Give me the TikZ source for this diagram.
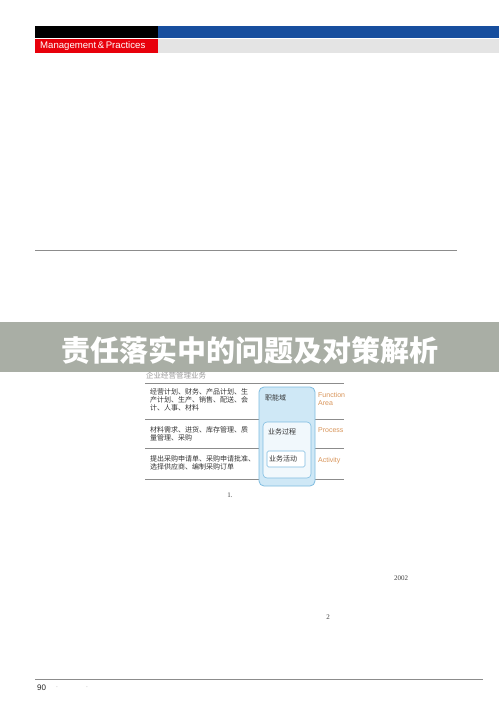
\documentclass[tikz,border=0pt]{standalone}
\usepackage{fontspec}
\setmainfont{Liberation Serif}
\setsansfont{Liberation Sans}
\newfontfamily\cjk{Noto Sans CJK SC}
\usetikzlibrary{positioning}
\definecolor{barblue}{HTML}{174E9E}
\definecolor{barred}{HTML}{E8000B}
\definecolor{bargray}{HTML}{E4E4E4}
\definecolor{bandgray}{HTML}{A9AEA5}
\definecolor{boxblue}{HTML}{CFE8F6}
\definecolor{boxline}{HTML}{7FBCE0}
\definecolor{labelorange}{HTML}{D9955A}
\definecolor{rulegray}{HTML}{8C8C8C}

\begin{document}
\begin{tikzpicture}[x=1pt,y=-1pt]
% Define styles
\tikzstyle{rowtext} = [anchor=north west, inner sep=0pt, align=left, font=\cjk\fontsize{7}{8.3}\selectfont, text=black!80]
\tikzstyle{areabox} = [draw=boxline, fill=boxblue, rounded corners=5pt, line width=0.8pt]
\tikzstyle{procbox} = [draw=boxline, fill=white!70!boxblue, rounded corners=4pt, line width=0.6pt]
\tikzstyle{actbox} = [draw=boxline, fill=white, rounded corners=1.5pt, line width=0.6pt]
\tikzstyle{tagtext} = [anchor=north west, inner sep=0pt, align=left, font=\sffamily\fontsize{7}{8.3}\selectfont, text=labelorange]
\tikzstyle{pagetext} = [inner sep=0pt, font=\fontsize{7}{8}\selectfont, text=black!75]
\tikzstyle{ruleline} = [draw=rulegray, line width=0.8pt]

% Page
\fill[white] (0,0) rectangle (499,706);
\useasboundingbox (0,0) rectangle (499,706);

% Header bars
\fill[black] (35,26) rectangle (158,38);
\fill[barblue] (158,26) rectangle (499,38);
\fill[bargray] (158,39) rectangle (499,53);
\fill[barred] (35,39) rectangle (158,53);
\node (brand) [text=white, anchor=west, inner sep=0pt, font=\sffamily\fontsize{9.6}{10}\selectfont] at (40,46) {Management\,\&\,Practices};

% Rules
\coordinate (rulea) at (35,250);
\coordinate (ruleb) at (457,250);
\draw [ruleline] (rulea) -- (ruleb);

% Table
\node (head) [anchor=west, inner sep=0pt, font=\cjk\fontsize{7.5}{8}\selectfont, text=black!40] at (146,376) {企业经营管理业务};
\coordinate (l0a) at (145,383); \coordinate (l0b) at (344,383);
\coordinate (l1a) at (145,419); \coordinate (l1b) at (344,419);
\coordinate (l2a) at (145,448); \coordinate (l2b) at (344,448);
\coordinate (l3a) at (145,479); \coordinate (l3b) at (344,479);
\foreach \r in {0,1,2,3} \draw [draw=black!45, line width=0.7pt] (l\r a) -- (l\r b);

\node (row1) [rowtext] at (150,388) {经营计划、财务、产品计划、生\\产计划、生产、销售、配送、会\\计、人事、材料};
\node (row2) [rowtext] at (150,426) {材料需求、进货、库存管理、质\\量管理、采购};
\node (row3) [rowtext] at (150,455) {提出采购申请单、采购申请批准、\\选择供应商、编制采购订单};

% Nested boxes
\draw [areabox] (259,387) rectangle (315,486);
\draw [procbox] (263,422) rectangle (311,478);
\draw [actbox] (267,451) rectangle (305,467);
\node (func) [rowtext, anchor=west] at (265,398) {职能域};
\node (proc) [rowtext, anchor=west] at (268,432) {业务过程};
\node (act) [rowtext, anchor=west] at (269,459) {业务活动};

\node (funcname) [tagtext] at (318,392) {Function\\Area};
\node (procname) [tagtext] at (318,427) {Process};
\node (actname) [tagtext] at (318,457) {Activity};

% Title band
\fill[bandgray] (0,322) rectangle (499,372);
\node (title) [text=white, inner sep=0pt, font=\cjk\bfseries\fontsize{29}{30}\selectfont] at (250,350) {责任落实中的问题及对策解析};

% Page text
\node (one) [pagetext] at (230,495) {1.};
\node (year) [pagetext] at (401,578) {2002};
\node (two) [pagetext] at (328,617) {2};

% Footer
\coordinate (foota) at (35,679);
\coordinate (footb) at (483,679);
\draw [ruleline] (foota) -- (footb);
\node (page) [pagetext, anchor=west, font=\sffamily\fontsize{8}{9}\selectfont, text=black!85] at (37,688) {90};
\node (dot1) [pagetext, text=black!30] at (57,688) {·};
\node (dot2) [pagetext, text=black!30] at (87,688) {·};
\end{tikzpicture}
\end{document}
